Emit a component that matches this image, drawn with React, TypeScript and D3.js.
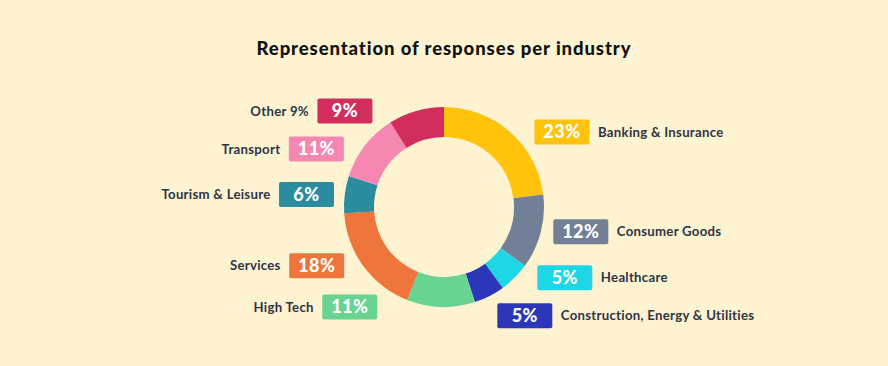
import React from "react";
import * as d3 from "d3";

const categories = [
  "Banking & Insurance",
  "Consumer Goods",
  "Healthcare",
  "Construction, Energy & Utilities",
  "High Tech",
  "Services",
  "Tourism & Leisure",
  "Transport",
  "Other 9%",
];
const values = [23, 12, 5, 5, 11, 18, 6, 11, 9];
const colors = [
  "#ffc30b",
  "#737e97",
  "#1dd6e6",
  "#2b37b8",
  "#69d391",
  "#ee763c",
  "#2b8c9f",
  "#f687b3",
  "#d12e5e",
];
const title = "Representation of responses per industry";

const W = 888;
const H = 366;
const CX = 444;
const CY = 207;
const R_OUT = 100;
const R_IN = 70;
const BOX_W = 55;
const BOX_H = 25;
const CLEAR_R = 110;
const GAP = 8.5;
const R_Y = 100;
const MIN_SPACE = 38;
const DY_MAX = 116;
const FONT = "Lato, 'Open Sans', sans-serif";

export default function App() {
  const pie = d3.pie<number>().sort(null).value((d) => d);
  const arcs = pie(values);
  const arcGen = d3.arc<d3.PieArcDatum<number>>().innerRadius(R_IN).outerRadius(R_OUT);

  type Lab = { i: number; side: number; dy: number };
  const labs: Lab[] = arcs.map((a, i) => {
    const mid = (a.startAngle + a.endAngle) / 2;
    return { i, side: Math.sin(mid) >= 0 ? 1 : -1, dy: -R_Y * Math.cos(mid) };
  });
  [1, -1].forEach((s) => {
    const group = labs.filter((l) => l.side === s).sort((a, b) => a.dy - b.dy);
    for (let k = 1; k < group.length; k++) {
      group[k].dy = Math.max(group[k].dy, group[k - 1].dy + MIN_SPACE);
    }
    if (group.length) {
      group[group.length - 1].dy = Math.min(group[group.length - 1].dy, DY_MAX);
      for (let k = group.length - 2; k >= 0; k--) {
        group[k].dy = Math.min(group[k].dy, group[k + 1].dy - MIN_SPACE);
      }
    }
  });

  return (
    <>
      <style>{`body{margin:0;background:#fef3d0}`}</style>
      <svg width={W} height={H} style={{ display: "block", background: "#fef3d0" }}>
        <text
          x={CX}
          y={55}
          textAnchor="middle"
          fontFamily={FONT}
          fontWeight={900}
          fontSize={18.5}
          letterSpacing={0.9}
          fill="#111111"
        >
          {title}
        </text>
        <g transform={`translate(${CX},${CY})`}>
          {arcs.map((a, i) => (
            <path key={i} d={arcGen(a) || ""} fill={colors[i]} />
          ))}
        </g>
        {labs.map((l) => {
          const yNear = Math.max(0, Math.abs(l.dy) - BOX_H / 2);
          const dx = Math.sqrt(Math.max(0, CLEAR_R * CLEAR_R - yNear * yNear));
          const inner = CX + l.side * dx;
          const bx = l.side > 0 ? inner : inner - BOX_W;
          const by = CY + l.dy - BOX_H / 2;
          const ty = CY + l.dy;
          const tx = l.side > 0 ? bx + BOX_W + GAP : bx - GAP;
          return (
            <g key={l.i}>
              <rect x={bx} y={by} width={BOX_W} height={BOX_H} rx={2} fill={colors[l.i]} />
              <text
                x={bx + BOX_W / 2}
                y={ty}
                dy="0.36em"
                textAnchor="middle"
                fontFamily={FONT}
                fontWeight={900}
                fontSize={18}
                letterSpacing={0.5}
                fill="#ffffff"
              >
                {values[l.i] + "%"}
              </text>
              <text
                x={tx}
                y={ty}
                dy="0.35em"
                textAnchor={l.side > 0 ? "start" : "end"}
                fontFamily={FONT}
                fontWeight={700}
                fontSize={13.2}
                letterSpacing={0.28}
                fill="#2e3447"
              >
                {categories[l.i]}
              </text>
            </g>
          );
        })}
      </svg>
    </>
  );
}
